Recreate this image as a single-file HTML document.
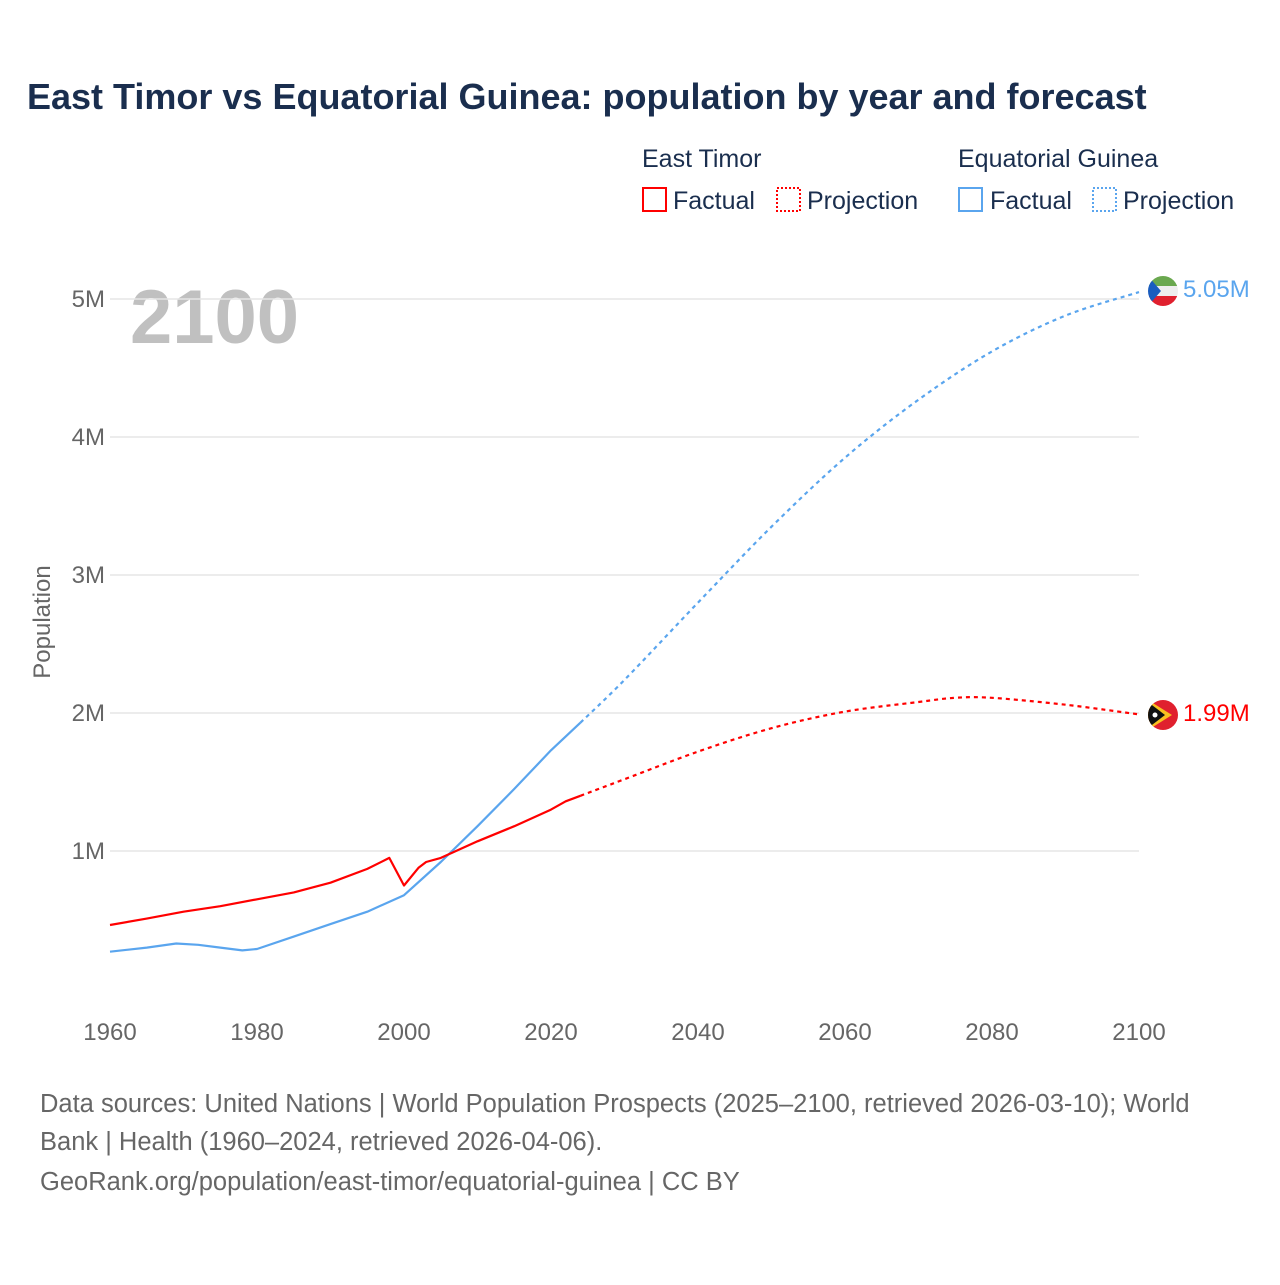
<!DOCTYPE html>
<html><head><meta charset="utf-8"><style>
body{margin:0;background:#fff;width:1280px;height:1280px;overflow:hidden;font-family:"Liberation Sans",sans-serif}
svg text{font-family:"Liberation Sans",sans-serif}
</style></head><body>
<svg id="chart" width="1280" height="1280" xmlns="http://www.w3.org/2000/svg">
<rect width="1280" height="1280" fill="#fff"/>
<text x="27" y="109" font-size="36" font-weight="bold" fill="#1a2e4e">East Timor vs Equatorial Guinea: population by year and forecast</text>
<g font-size="25" fill="#1a2e4e">
<text x="642" y="167">East Timor</text>
<text x="958" y="167">Equatorial Guinea</text>
<g><rect x="643" y="188" width="23" height="23" fill="none" stroke="#f00" stroke-width="2"/><text x="673" y="209">Factual</text></g>
<g><rect x="777" y="188" width="23" height="23" fill="none" stroke="#f00" stroke-width="2" stroke-dasharray="2,2"/><text x="807" y="209">Projection</text></g>
<g><rect x="959" y="188" width="23" height="23" fill="none" stroke="#5aa5ee" stroke-width="2"/><text x="990" y="209">Factual</text></g>
<g><rect x="1093" y="188" width="23" height="23" fill="none" stroke="#5aa5ee" stroke-width="2" stroke-dasharray="2,2"/><text x="1123" y="209">Projection</text></g>
</g>
<text x="130" y="343" font-size="76" font-weight="bold" fill="#c0c0c0">2100</text>
<text transform="translate(50,622) rotate(-90)" text-anchor="middle" font-size="24" fill="#666">Population</text>
<g id="grid"></g><g id="xt"></g><g id="lines"></g>
<g>
<clipPath id="c1"><circle cx="1163" cy="291" r="15"/></clipPath>
<g clip-path="url(#c1)"><rect x="1148" y="276" width="30" height="10" fill="#6aa84f"/><rect x="1148" y="286" width="30" height="10" fill="#eee"/><rect x="1148" y="296" width="30" height="10" fill="#e0202e"/><polygon points="1148,276 1161,291 1148,306" fill="#1a5dbf"/></g></g>
<g>
<clipPath id="c2"><circle cx="1163" cy="715" r="15"/></clipPath>
<g clip-path="url(#c2)"><rect x="1148" y="700" width="30" height="30" fill="#e0202e"/><polygon points="1148,700 1172,715 1148,730" fill="#f9c020"/><polygon points="1148,702 1165,715 1148,728" fill="#111"/><circle cx="1155" cy="715" r="2.5" fill="#fff"/></g></g>
<text x="1183" y="297" font-size="24" fill="#5aa5ee">5.05M</text>
<text x="1183" y="721" font-size="24" fill="#f00">1.99M</text>
<g font-size="25.5" fill="#666">
<text x="40" y="1112">Data sources: United Nations | World Population Prospects (2025–2100, retrieved 2026-03-10); World</text>
<text x="40" y="1150">Bank | Health (1960–2024, retrieved 2026-04-06).</text>
<text x="40" y="1190">GeoRank.org/population/east-timor/equatorial-guinea | CC BY</text>
</g>
</svg>
<script>
const yTicks=[1,2,3,4,5];
const yTickLabels=["1M","2M","3M","4M","5M"];
const xTicks=[1960,1980,2000,2020,2040,2060,2080,2100];
const tlYears=[1960,1965,1970,1975,1980,1985,1990,1995,1998,2000,2002,2003,2005,2010,2015,2020,2022,2024];
const tlVals=[0.464,0.51,0.56,0.60,0.65,0.70,0.77,0.87,0.95,0.75,0.88,0.92,0.95,1.07,1.18,1.30,1.36,1.40];
const tlProjYears=[2024,2030,2040,2050,2060,2070,2075,2080,2090,2100];
const tlProjVals=[1.40,1.52,1.72,1.89,2.01,2.08,2.11,2.11,2.06,1.99];
const gqYears=[1960,1965,1969,1972,1975,1978,1980,1985,1990,1995,2000,2005,2010,2015,2020,2024];
const gqVals=[0.27,0.30,0.33,0.32,0.30,0.28,0.29,0.38,0.47,0.56,0.68,0.92,1.18,1.45,1.73,1.93];
const gqProjYears=[2024,2030,2040,2050,2060,2070,2080,2090,2100];
const gqProjVals=[1.93,2.24,2.80,3.35,3.85,4.27,4.62,4.88,5.05];
const X=y=>110+(y-1960)*(1139-110)/140;
const Y=v=>989-v*138;
const NS="http://www.w3.org/2000/svg";
function mk(t,a,p){const e=document.createElementNS(NS,t);for(const k in a)e.setAttribute(k,a[k]);p.appendChild(e);return e;}
const grid=document.getElementById('grid');
yTicks.forEach((v,i)=>{
 const l=mk('line',{x1:110,x2:1139,y1:Y(v),y2:Y(v),stroke:'#e6e6e6','stroke-width':1.5},grid);
 
 
 const t=mk('text',{x:105,y:Y(v)+8,'text-anchor':'end','font-size':24,fill:'#666'},grid);
 t.textContent=yTickLabels[i];
 
 
});
const xt=document.getElementById('xt');
xTicks.forEach(y=>{
 const t=mk('text',{x:X(y),y:1040,'text-anchor':'middle','font-size':24,fill:'#666'},xt);
 t.textContent=y;
 
 
});
const lines=document.getElementById('lines');
function line(xs,vs,color,dash,name,smooth){
 const P=xs.map((x,i)=>[X(x),Y(vs[i])]);
 let d='M'+P[0][0].toFixed(1)+','+P[0][1].toFixed(1);
 for(let i=1;i<P.length;i++){
  if(!smooth){d+=' L'+P[i][0].toFixed(1)+','+P[i][1].toFixed(1);continue;}
  const p0=P[Math.max(0,i-2)],p1=P[i-1],p2=P[i],p3=P[Math.min(P.length-1,i+1)];
  const c1=[p1[0]+(p2[0]-p0[0])/6,p1[1]+(p2[1]-p0[1])/6];
  const c2=[p2[0]-(p3[0]-p1[0])/6,p2[1]-(p3[1]-p1[1])/6];
  d+=' C'+c1.map(n=>n.toFixed(1)).join(',')+' '+c2.map(n=>n.toFixed(1)).join(',')+' '+p2.map(n=>n.toFixed(1)).join(',');
 }
 const p=mk('path',{d:d,fill:'none',stroke:color,'stroke-width':2.2,'stroke-linejoin':'round'},lines);
 if(dash)p.setAttribute('stroke-dasharray','4,4');
 
 
}
line(gqProjYears,gqProjVals,'#5aa5ee',true,'line-equatorial-guinea-projection',true);
line(tlProjYears,tlProjVals,'#f00',true,'line-east-timor-projection',true);
line(gqYears,gqVals,'#5aa5ee',false,'line-equatorial-guinea-factual',false);
line(tlYears,tlVals,'#f00',false,'line-east-timor-factual',false);
</script>
</body></html>
